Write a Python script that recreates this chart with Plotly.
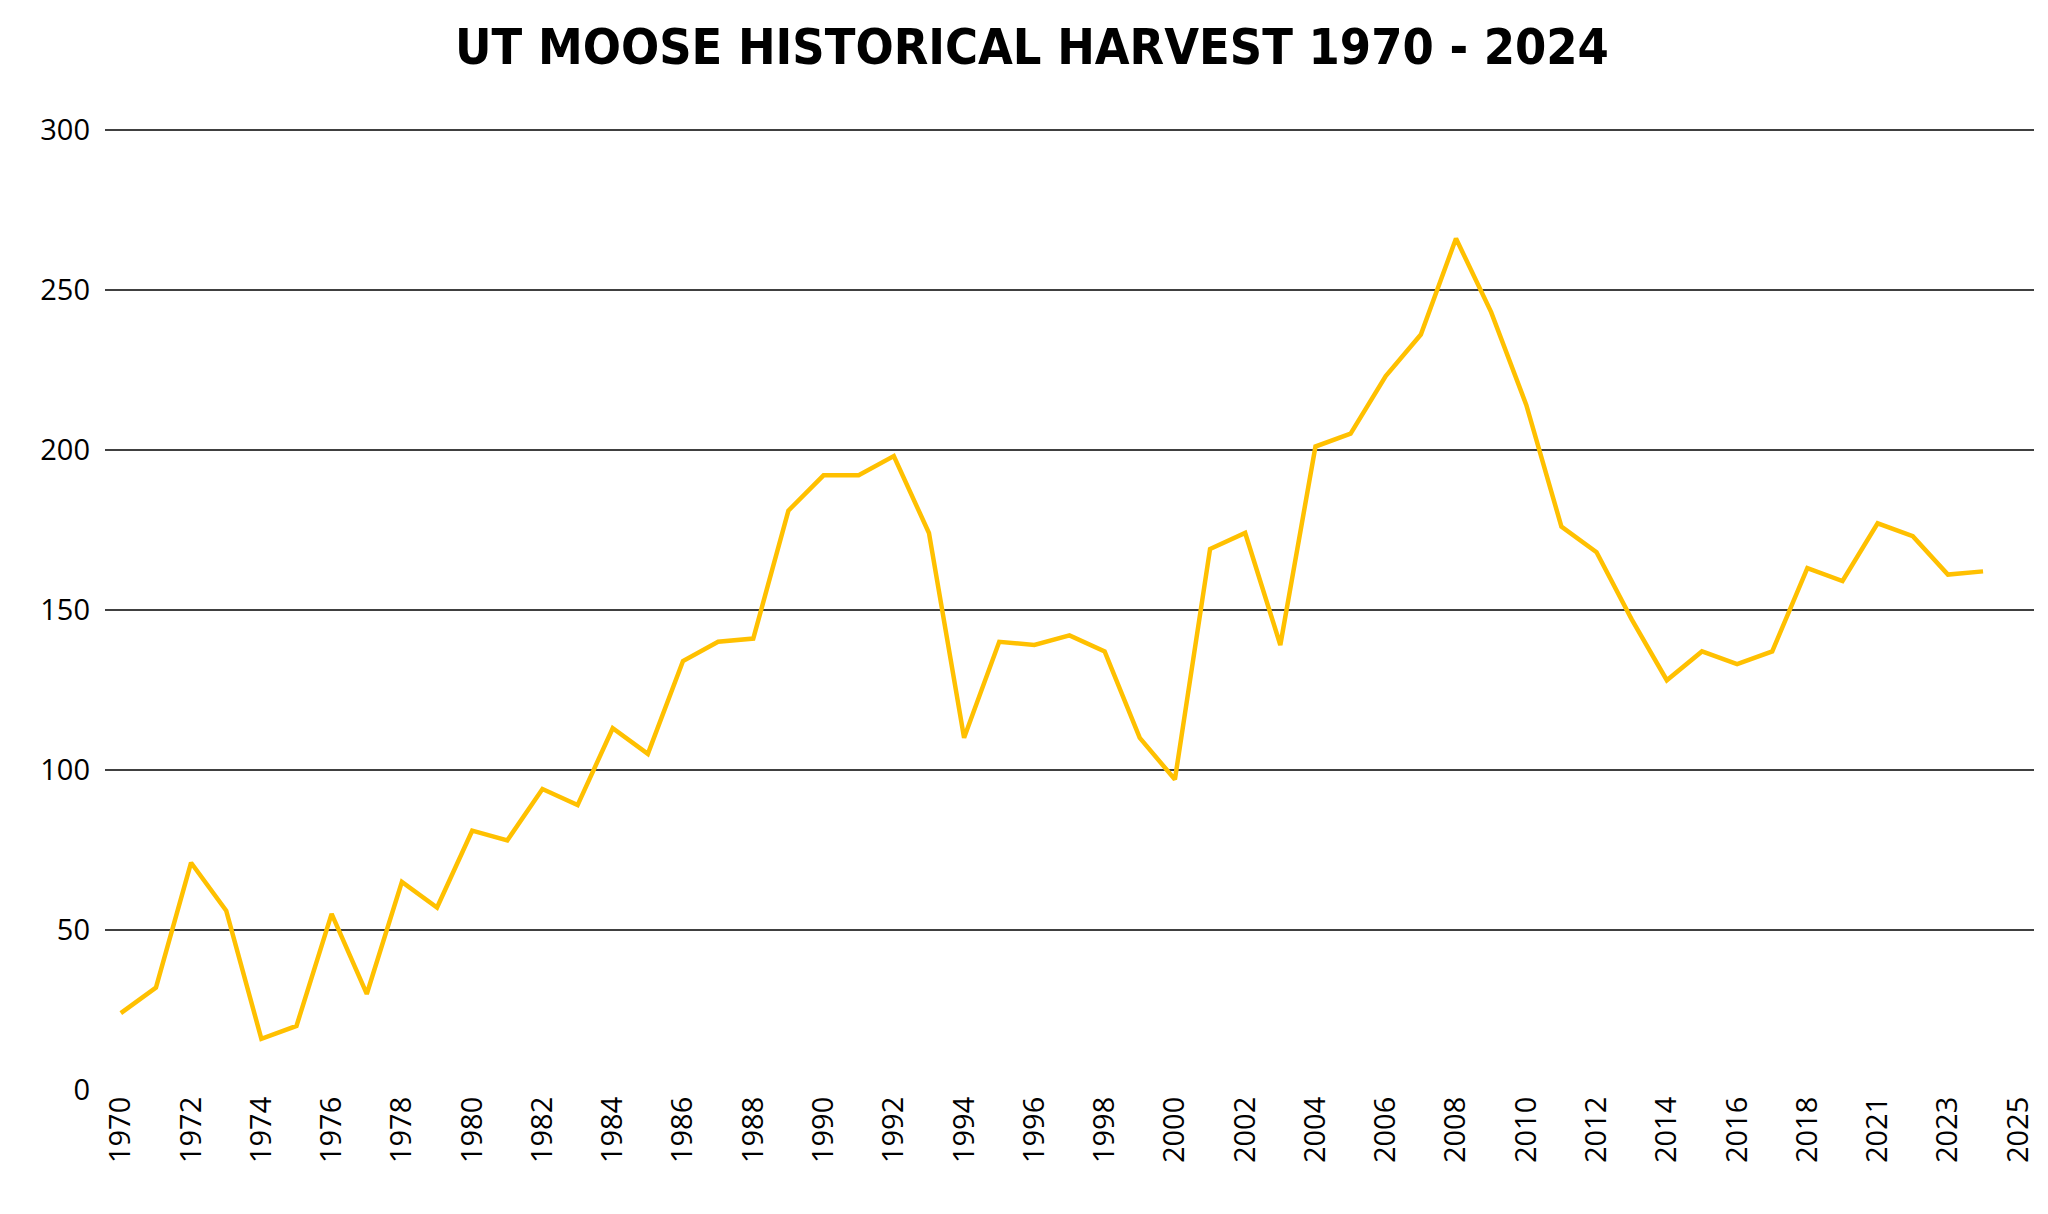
import plotly.graph_objects as go

years = [str(y) for y in range(1970, 2019)] + ["2020", "2021", "2022", "2023", "2024", "2025"]
harvest = [24, 32, 71, 56, 16, 20, 55, 30, 65, 57,
           81, 78, 94, 89, 113, 105, 134, 140, 141, 181,
           192, 192, 198, 174, 110, 140, 139, 142, 137, 110,
           97, 169, 174, 139, 201, 205, 223, 236, 266, 243,
           214, 176, 168, 147, 128, 137, 133, 137, 163,
           159, 177, 173, 161, 162, None]
tick_labels = years[::2]

fig = go.Figure(go.Scatter(x=years, y=harvest, mode="lines",
                           line=dict(color="#FFC000", width=4.5), connectgaps=False))
fig.update_layout(
    width=2048, height=1214, plot_bgcolor="white", paper_bgcolor="white",
    margin=dict(l=97, r=22, t=120, b=132),
    title=dict(text="<b>UT MOOSE HISTORICAL HARVEST 1970 - 2024</b>", x=0.5, xanchor="center",
               y=1 - 38 / 1214, yanchor="middle",
               font=dict(family="DejaVu Sans Condensed", size=50, color="black")),
    showlegend=False,
)
fig.update_xaxes(type="category", categoryorder="array", categoryarray=years,
                 range=[-0.45, 54.45], tickmode="array", tickvals=tick_labels, ticktext=tick_labels,
                 tickangle=-90, showgrid=False, zeroline=False, showline=False,
                 tickfont=dict(family="Open Sans", size=29, color="black"))
fig.update_yaxes(range=[0, 300.5], dtick=50, showgrid=True, gridcolor="#404040", gridwidth=2,
                 zeroline=False, showline=False,
                 tickfont=dict(family="Open Sans", size=29, color="black"), ticklabelstandoff=14)
fig.write_html("out.html")
